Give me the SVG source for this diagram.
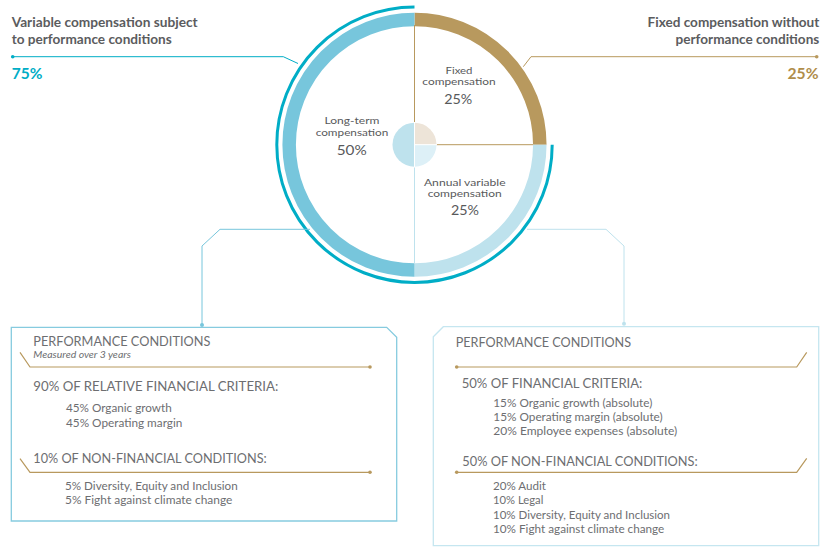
<svg xmlns="http://www.w3.org/2000/svg" width="829" height="551" viewBox="0 0 829 551">
<style>
text{font-family:Lato,"Liberation Sans",sans-serif;}
.hd{font-size:14px;font-weight:700;fill:#5b5c5e;}
.pct{font-size:15.5px;font-weight:700;}
.cl{font-size:10px;fill:#58595b;text-anchor:middle;}
.cp{font-size:13.5px;fill:#58595b;text-anchor:middle;}
.bh{font-size:13.5px;fill:#6d6e71;}
.bi{font-size:11.5px;fill:#6d6e71;}
.it{font-size:9.5px;font-style:italic;fill:#6d6e71;}
.gold{stroke:#b8995e;stroke-width:1.2;fill:none;}
.gd{fill:#b8995e;}
</style>
<g id="header-variable">
<text class="hd" x="11.7" y="27" textLength="186" lengthAdjust="spacingAndGlyphs">Variable compensation subject</text>
<text class="hd" x="11.7" y="43.5" textLength="160" lengthAdjust="spacingAndGlyphs">to performance conditions</text>
<text class="pct" x="11.7" y="79" fill="#00adc6" textLength="30.7" lengthAdjust="spacingAndGlyphs">75%</text>
</g>
<g id="header-fixed">
<text class="hd" x="819.3" y="27" text-anchor="end" textLength="171.7" lengthAdjust="spacingAndGlyphs">Fixed compensation without</text>
<text class="hd" x="819.3" y="43.5" text-anchor="end" textLength="143.7" lengthAdjust="spacingAndGlyphs">performance conditions</text>
<text class="pct" x="818.5" y="79" fill="#b08d4a" text-anchor="end" textLength="31" lengthAdjust="spacingAndGlyphs">25%</text>
</g>
<g id="chart">
<path d="M414.5,19.4 A125.3,125.3 0 0 1 539.8,144.7" stroke="#b8995e" stroke-width="13.5" fill="none"/>
<path d="M539.8,144.7 A125.3,125.3 0 0 1 414.5,270" stroke="#bee2ed" stroke-width="13.5" fill="none"/>
<path d="M414.5,270 A125.3,125.3 0 1 1 414.5,19.4" stroke="#77c6dc" stroke-width="13.5" fill="none"/>
<path d="M552.2,144.7 A137.7,137.7 0 1 1 414.5,7" stroke="#00adc6" stroke-width="3" fill="none"/>
<line x1="414.5" y1="25" x2="414.5" y2="122.7" stroke="#b8995e" stroke-width="1"/>
<line x1="436.5" y1="144.7" x2="533" y2="144.7" stroke="#b8995e" stroke-width="1"/>
<line x1="414.5" y1="166.7" x2="414.5" y2="264" stroke="#bee2ed" stroke-width="1"/>
<path d="M414.5,144.7 V122.7 A22,22 0 0 1 436.5,144.7 Z" fill="#ede4d8"/>
<path d="M414.5,144.7 H436.5 A22,22 0 0 1 414.5,166.7 Z" fill="#ddf0f7"/>
<path d="M414.5,166.7 A22,22 0 0 1 414.5,122.7 Z" fill="#bee2ed"/>
<line x1="414.5" y1="122" x2="414.5" y2="167.5" stroke="#fff" stroke-width="1"/>
<line x1="414.5" y1="144.7" x2="437" y2="144.7" stroke="#fff" stroke-width="1"/>
</g>
<g id="label-fixed">
<text class="cl" x="459" y="73.5" textLength="27" lengthAdjust="spacingAndGlyphs">Fixed</text>
<text class="cl" x="459" y="84.5" textLength="73.3" lengthAdjust="spacingAndGlyphs">compensation</text>
<text class="cp" x="458.3" y="103.5" textLength="28" lengthAdjust="spacingAndGlyphs">25%</text>
</g>
<g id="label-longterm">
<text class="cl" x="352" y="123.8" textLength="55" lengthAdjust="spacingAndGlyphs">Long-term</text>
<text class="cl" x="352" y="135.5" textLength="72.7" lengthAdjust="spacingAndGlyphs">compensation</text>
<text class="cp" x="351.7" y="155" textLength="30" lengthAdjust="spacingAndGlyphs">50%</text>
</g>
<g id="label-annual">
<text class="cl" x="464.8" y="185.5" textLength="81.7" lengthAdjust="spacingAndGlyphs">Annual variable</text>
<text class="cl" x="464.7" y="196.7" textLength="74" lengthAdjust="spacingAndGlyphs">compensation</text>
<text class="cp" x="465" y="215.3" textLength="28" lengthAdjust="spacingAndGlyphs">25%</text>
</g>
<g id="connectors" fill="none" stroke-width="1">
<path d="M12.7,56.7 H283.3 L298,63.5" stroke="#00adc6"/>
<circle cx="12.7" cy="56.7" r="1.8" fill="#00adc6"/>
<path d="M816.7,56.7 H531 L523.3,66.7" stroke="#b8995e"/>
<circle cx="816.7" cy="56.7" r="1.8" fill="#b8995e"/>
<path d="M310,229.3 H220 L202,246 V325" stroke="#77c6dc"/>
<circle cx="202" cy="325" r="2" fill="#77c6dc"/>
<path d="M527,229.3 H606 L624,246 V323.7" stroke="#bee2ed"/>
<circle cx="624" cy="323.7" r="2" fill="#bee2ed"/>
</g>
<g id="box-longterm">
<path d="M11.3,327.3 H386.7 L396.7,337.3 V521 H11.3 Z" fill="#fff" stroke="#86cbdf" stroke-width="1.3"/>
<text class="bh" x="33.3" y="345.7" textLength="177" lengthAdjust="spacingAndGlyphs">PERFORMANCE CONDITIONS</text>
<text class="it" x="33.3" y="357.5" textLength="97.7" lengthAdjust="spacingAndGlyphs">Measured over 3 years</text>
<path class="gold" d="M20,352.3 L30,367 H370"/>
<circle class="gd" cx="370" cy="367" r="1.8"/>
<text class="bh" x="33.3" y="391" textLength="245" lengthAdjust="spacingAndGlyphs">90% OF RELATIVE FINANCIAL CRITERIA:</text>
<text class="bi" x="66" y="412.3" textLength="105.7" lengthAdjust="spacingAndGlyphs">45% Organic growth</text>
<text class="bi" x="66" y="426.7" textLength="116.3" lengthAdjust="spacingAndGlyphs">45% Operating margin</text>
<text class="bh" x="33.3" y="463.3" textLength="233.4" lengthAdjust="spacingAndGlyphs">10% OF NON-FINANCIAL CONDITIONS:</text>
<path class="gold" d="M20,458.7 L30,472.3 H370"/>
<circle class="gd" cx="370" cy="472.3" r="1.8"/>
<text class="bi" x="65" y="490" textLength="172.7" lengthAdjust="spacingAndGlyphs">5% Diversity, Equity and Inclusion</text>
<text class="bi" x="65" y="504" textLength="167.3" lengthAdjust="spacingAndGlyphs">5% Fight against climate change</text>
</g>
<g id="box-annual">
<path d="M443.3,326.7 H818.7 V545.7 H433.3 V336.7 Z" fill="#fff" stroke="#c5e6f0" stroke-width="1.3"/>
<text class="bh" x="455.7" y="347" textLength="175.3" lengthAdjust="spacingAndGlyphs">PERFORMANCE CONDITIONS</text>
<path class="gold" d="M456.7,367 H796.7 L806.7,352.3"/>
<circle class="gd" cx="456.7" cy="367" r="1.8"/>
<text class="bh" x="461.7" y="387.5" textLength="180.7" lengthAdjust="spacingAndGlyphs">50% OF FINANCIAL CRITERIA:</text>
<text class="bi" x="493.3" y="406.7" textLength="159" lengthAdjust="spacingAndGlyphs">15% Organic growth (absolute)</text>
<text class="bi" x="493.3" y="421" textLength="169.4" lengthAdjust="spacingAndGlyphs">15% Operating margin (absolute)</text>
<text class="bi" x="493.3" y="435.3" textLength="184" lengthAdjust="spacingAndGlyphs">20% Employee expenses (absolute)</text>
<text class="bh" x="462.3" y="466" textLength="235.4" lengthAdjust="spacingAndGlyphs">50% OF NON-FINANCIAL CONDITIONS:</text>
<path class="gold" d="M456.7,472.3 H796.7 L806.7,458.3"/>
<circle class="gd" cx="456.7" cy="472.3" r="1.8"/>
<text class="bi" x="493" y="490" textLength="53" lengthAdjust="spacingAndGlyphs">20% Audit</text>
<text class="bi" x="493" y="504" textLength="50.3" lengthAdjust="spacingAndGlyphs">10% Legal</text>
<text class="bi" x="493" y="518.7" textLength="177" lengthAdjust="spacingAndGlyphs">10% Diversity, Equity and Inclusion</text>
<text class="bi" x="493" y="532.7" textLength="171.3" lengthAdjust="spacingAndGlyphs">10% Fight against climate change</text>
</g>
</svg>
